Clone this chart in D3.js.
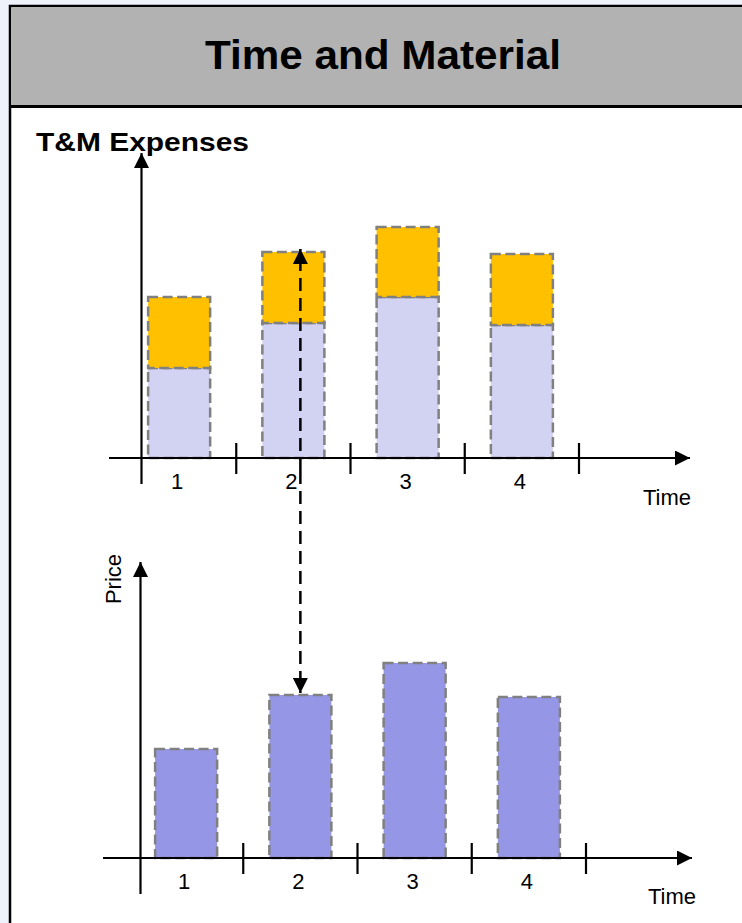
<!DOCTYPE html>
<html>
<head>
<meta charset="utf-8">
<script src="https://cdn.jsdelivr.net/npm/d3@7"></script>
<style>
  html, body { margin: 0; padding: 0; background: #eef3fb; }
  svg { display: block; }
  text { font-family: "Liberation Sans", Arial, sans-serif; }
</style>
</head>
<body>
<svg id="chart" width="742" height="923"></svg>
<script>
// Periods shown on both time axes
const periods = ["1", "2", "3", "4"];
// T&M expenses per period: time (labour) part and material part
const timeCost = [45, 67.5, 80.5, 66.5];
const materialCost = [35.5, 35.5, 35, 35.5];
// Price charged per period
const price = [54.5, 81.5, 97.5, 80.5];

const title = "Time and Material";
const topAxisLabel = "T&M Expenses";
const bottomAxisLabel = "Price";
const timeLabel = "Time";

const svg = d3.select("#chart");

// Panel with grey header
svg.append("rect").attr("x", 10).attr("y", 6).attr("width", 760).attr("height", 940)
  .attr("fill", "#ffffff").attr("stroke", "#000").attr("stroke-width", 2.5);
svg.append("rect").attr("x", 11.25).attr("y", 7.25).attr("width", 760).attr("height", 98.5)
  .attr("fill", "#b2b2b2");
svg.append("line").attr("x1", 10).attr("x2", 770).attr("y1", 106.5).attr("y2", 106.5)
  .attr("stroke", "#000").attr("stroke-width", 3);
svg.append("text").attr("x", 383).attr("y", 69).attr("text-anchor", "middle")
  .attr("font-size", 41).attr("font-weight", "bold").attr("fill", "#000")
  .attr("textLength", 356).attr("lengthAdjust", "spacingAndGlyphs").text(title);

// Arrowheads
const defs = svg.append("defs");
defs.append("marker").attr("id", "arrow")
  .attr("viewBox", "0 0 10 10").attr("refX", 10).attr("refY", 5)
  .attr("markerUnits", "userSpaceOnUse")
  .attr("markerWidth", 15).attr("markerHeight", 15)
  .attr("orient", "auto")
  .append("path").attr("d", "M0,0 L10,5 L0,10 Z").attr("fill", "#000");

const barStroke = { color: "#808080", width: 2.5, dash: "10,4.5" };

function drawAxes(g, x, originX, baseY, topY, axisStartX, axisEndX, yBottom) {
  // vertical axis with arrow
  g.append("line").attr("x1", originX).attr("x2", originX)
    .attr("y1", yBottom).attr("y2", topY)
    .attr("stroke", "#000").attr("stroke-width", 2.2)
    .attr("marker-end", "url(#arrow)");
  // horizontal axis with arrow
  g.append("line").attr("x1", axisStartX).attr("x2", axisEndX)
    .attr("y1", baseY).attr("y2", baseY)
    .attr("stroke", "#000").attr("stroke-width", 2.2)
    .attr("marker-end", "url(#arrow)");
  // ticks between the periods
  const step = x.step();
  g.selectAll(".tick").data(periods).join("line")
    .attr("x1", d => x(d) - x.paddingInner() * step / 2 + step)
    .attr("x2", d => x(d) - x.paddingInner() * step / 2 + step)
    .attr("y1", baseY - 15).attr("y2", baseY + 16)
    .attr("stroke", "#000").attr("stroke-width", 2.2);
  // period labels
  g.selectAll(".plabel").data(periods).join("text")
    .attr("x", d => x(d) + x.bandwidth() / 2 - 2)
    .attr("y", baseY + 31)
    .attr("text-anchor", "middle").attr("font-size", 22).attr("fill", "#000")
    .text(d => d);
}

// ---------- upper chart: T&M expenses ----------
const gTop = svg.append("g");
const xTop = d3.scaleBand().domain(periods).range([122, 579])
  .paddingInner(0.457).paddingOuter(0.2285);
const yTop = d3.scaleLinear().domain([0, 150]).range([458, 158]);

const stacked = periods.map((p, i) => ({ p, t: timeCost[i], m: materialCost[i] }));

gTop.selectAll(".time").data(stacked).join("rect")
  .attr("x", d => xTop(d.p)).attr("width", xTop.bandwidth())
  .attr("y", d => yTop(d.t)).attr("height", d => yTop(0) - yTop(d.t))
  .attr("fill", "#d2d2f2")
  .attr("stroke", barStroke.color).attr("stroke-width", barStroke.width)
  .attr("stroke-dasharray", barStroke.dash);
gTop.selectAll(".mat").data(stacked).join("rect")
  .attr("x", d => xTop(d.p)).attr("width", xTop.bandwidth())
  .attr("y", d => yTop(d.t + d.m)).attr("height", d => yTop(d.t) - yTop(d.t + d.m))
  .attr("fill", "#ffc000")
  .attr("stroke", barStroke.color).attr("stroke-width", barStroke.width)
  .attr("stroke-dasharray", barStroke.dash);

drawAxes(gTop, xTop, 141.5, yTop(0), 153, 109, 690, 484);
gTop.append("text").attr("x", 36).attr("y", 151).attr("font-size", 26)
  .attr("font-weight", "bold").attr("fill", "#000")
  .attr("textLength", 213).attr("lengthAdjust", "spacingAndGlyphs").text(topAxisLabel);
gTop.append("text").attr("x", 643).attr("y", 505).attr("font-size", 22)
  .attr("fill", "#000").text(timeLabel);

// ---------- lower chart: price ----------
const gBot = svg.append("g");
const xBot = d3.scaleBand().domain(periods).range([129, 586])
  .paddingInner(0.457).paddingOuter(0.2285);
const yBot = d3.scaleLinear().domain([0, 147]).range([858, 564]);

gBot.selectAll(".price").data(periods).join("rect")
  .attr("x", d => xBot(d)).attr("width", xBot.bandwidth())
  .attr("y", (d, i) => yBot(price[i])).attr("height", (d, i) => yBot(0) - yBot(price[i]))
  .attr("fill", "#9696e6")
  .attr("stroke", barStroke.color).attr("stroke-width", barStroke.width)
  .attr("stroke-dasharray", barStroke.dash);

drawAxes(gBot, xBot, 140.5, yBot(0), 562, 103, 692, 894);
gBot.append("text").attr("transform", "translate(121,579) rotate(-90)")
  .attr("text-anchor", "middle").attr("font-size", 22).attr("fill", "#000")
  .text(bottomAxisLabel);
gBot.append("text").attr("x", 648).attr("y", 904).attr("font-size", 22)
  .attr("fill", "#000").text(timeLabel);

// ---------- dashed link: expenses of period 2 map to the price of period 2 ----------
const k = 1;
const linkX = xBot(periods[k]) + xBot.bandwidth() / 2;
const linkTop = yTop(timeCost[k] + materialCost[k]) - 3;
const linkBottom = yBot(price[k]) - 2;
const linkMid = (linkTop + linkBottom) / 2;
svg.append("line").attr("x1", linkX).attr("x2", linkX)
  .attr("y1", linkMid).attr("y2", linkTop)
  .attr("stroke", "#000").attr("stroke-width", 2.5).attr("stroke-dasharray", "13,7")
  .attr("marker-end", "url(#arrow)");
svg.append("line").attr("x1", linkX).attr("x2", linkX)
  .attr("y1", linkMid).attr("y2", linkBottom)
  .attr("stroke", "#000").attr("stroke-width", 2.5).attr("stroke-dasharray", "13,7")
  .attr("marker-end", "url(#arrow)");
</script>
</body>
</html>
